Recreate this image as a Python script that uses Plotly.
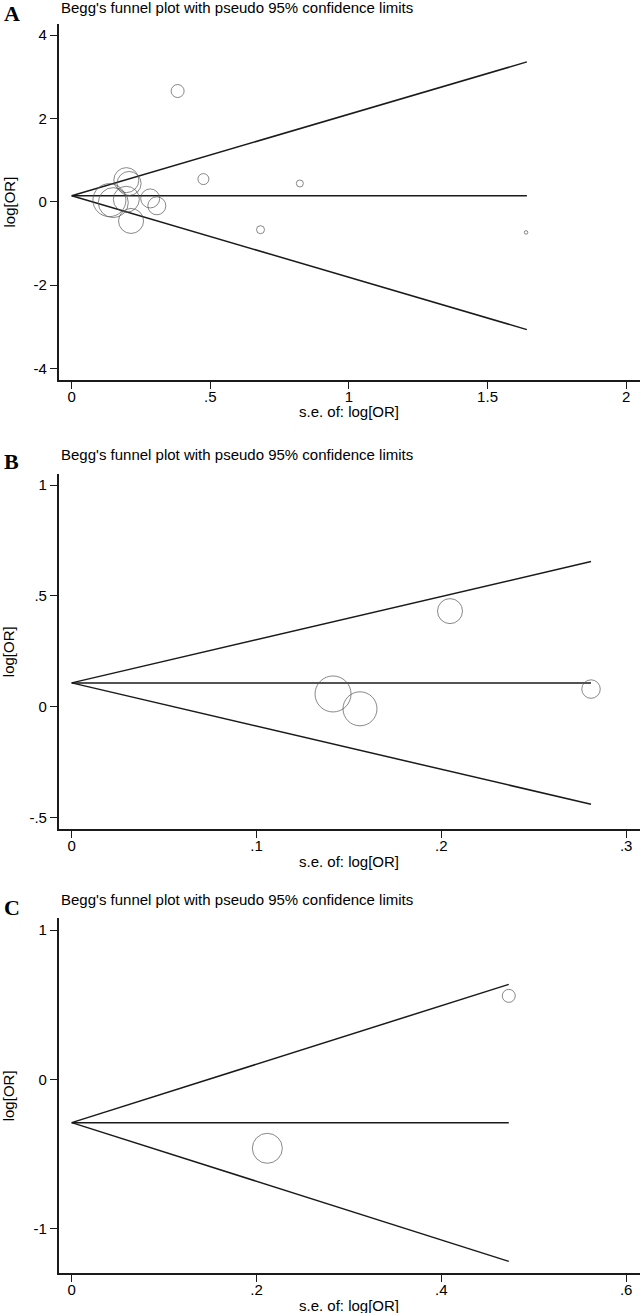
import plotly.graph_objects as go

W, H = 640, 1313

# ---------------- Data ----------------
# Panel A
A_se = [0.136, 0.150, 0.197, 0.197, 0.207, 0.214, 0.283, 0.307, 0.382, 0.475, 0.681, 0.823, 1.639]
A_logor = [0.04, -0.02, 0.06, 0.52, 0.44, -0.46, 0.08, -0.096, 2.66, 0.545, -0.67, 0.44, -0.735]
A_size = [33, 30, 26, 25, 24, 25, 19, 18, 13, 11, 8, 7, 3.5]
A_funnel_se = [0, 1.642]
A_center = [0.145, 0.145]
A_upper = [0.145, 3.36]
A_lower = [0.145, -3.07]
A_xticks = [0, 0.5, 1, 1.5, 2]
A_xticktext = ["0", ".5", "1", "1.5", "2"]
A_yticks = [-4, -2, 0, 2, 4]
A_yticktext = ["-4", "-2", "0", "2", "4"]

# Panel B
B_se = [0.1414, 0.156, 0.2047, 0.281]
B_logor = [0.057, -0.010, 0.431, 0.079]
B_size = [36, 34, 25, 18.5]
B_funnel_se = [0, 0.281]
B_center = [0.107, 0.107]
B_upper = [0.107, 0.655]
B_lower = [0.107, -0.441]
B_xticks = [0, 0.1, 0.2, 0.3]
B_xticktext = ["0", ".1", ".2", ".3"]
B_yticks = [-0.5, 0, 0.5, 1]
B_yticktext = ["-.5", "0", ".5", "1"]

# Panel C
C_se = [0.2117, 0.473]
C_logor = [-0.462, 0.56]
C_size = [30, 13]
C_funnel_se = [0, 0.473]
C_center = [-0.29, -0.29]
C_upper = [-0.29, 0.637]
C_lower = [-0.29, -1.22]
C_xticks = [0, 0.2, 0.4, 0.6]
C_xticktext = ["0", ".2", ".4", ".6"]
C_yticks = [-1, 0, 1]
C_yticktext = ["-1", "0", "1"]

panel_letters = ["A", "B", "C"]
title_text = "Begg's funnel plot with pseudo 95% confidence limits"
x_title = "s.e. of: log[OR]"
y_title = "log[OR]"

# ---------------- Layout geometry ----------------
def py(px):
    return 1 - px / H

x_left = 58.7
x_dom = [x_left / W, 1.0]
panels = [
    dict(se=A_se, lo=A_logor, sz=A_size, fse=A_funnel_se, c=A_center, u=A_upper, l=A_lower,
         xt=A_xticks, xtt=A_xticktext, yt=A_yticks, ytt=A_yticktext,
         xr=[-0.047, 2.05], yr=[-4.28, 4.27], top=24, bot=380, title_y=7.5, letter_y=14),
    dict(se=B_se, lo=B_logor, sz=B_size, fse=B_funnel_se, c=B_center, u=B_upper, l=B_lower,
         xt=B_xticks, xtt=B_xticktext, yt=B_yticks, ytt=B_yticktext,
         xr=[-0.00703, 0.3075], yr=[-0.554, 1.05], top=474, bot=829.3, title_y=455, letter_y=461),
    dict(se=C_se, lo=C_logor, sz=C_size, fse=C_funnel_se, c=C_center, u=C_upper, l=C_lower,
         xt=C_xticks, xtt=C_xticktext, yt=C_yticks, ytt=C_yticktext,
         xr=[-0.01407, 0.615], yr=[-1.30, 1.08], top=918.3, bot=1273.3, title_y=900, letter_y=907),
]

fig = go.Figure()
line_col = "#1a1a1a"
font_fam = "Liberation Sans, Arial, sans-serif"
FS = 15
annotations = []

for i, p in enumerate(panels):
    n = "" if i == 0 else str(i + 1)
    xa, ya = "x" + n, "y" + n
    for yy in (p["u"], p["c"], p["l"]):
        fig.add_trace(go.Scatter(x=p["fse"], y=yy, mode="lines", xaxis=xa, yaxis=ya,
                                 line=dict(color=line_col, width=1.5), showlegend=False,
                                 hoverinfo="skip"))
    fig.add_trace(go.Scatter(x=p["se"], y=p["lo"], mode="markers", xaxis=xa, yaxis=ya,
                             marker=dict(symbol="circle-open", size=p["sz"], color="#555555",
                                         line=dict(width=1, color="#555555")),
                             showlegend=False))
    axis_common = dict(showline=True, linecolor=line_col, linewidth=1.5, ticks="outside",
                       ticklen=7, tickwidth=1.2, tickcolor=line_col, showgrid=False,
                       zeroline=False, automargin=False,
                       tickfont=dict(family=font_fam, size=FS, color="black"))
    fig.layout["xaxis" + n] = dict(domain=x_dom, range=p["xr"], anchor=ya,
                                   tickvals=p["xt"], ticktext=p["xtt"], ticklabelstandoff=-5,
                                   **axis_common)
    fig.layout["yaxis" + n] = dict(domain=[py(p["bot"]), py(p["top"])], range=p["yr"], anchor=xa,
                                   tickvals=p["yt"], ticktext=p["ytt"],
                                   **axis_common)
    # axis titles
    annotations.append(dict(text=x_title, x=(x_left + W) / 2 / W, y=py(p["bot"] + 32),
                            xref="paper", yref="paper", xanchor="center", yanchor="middle",
                            showarrow=False, font=dict(family=font_fam, size=FS, color="black")))
    annotations.append(dict(text=y_title, x=8.5 / W, y=py((p["top"] + p["bot"]) / 2),
                            xref="paper", yref="paper", xanchor="center", yanchor="middle",
                            textangle=-90, showarrow=False,
                            font=dict(family=font_fam, size=FS, color="black")))
    # panel title and letter
    annotations.append(dict(text=title_text, x=59 / W, y=py(p["title_y"]), xref="paper", yref="paper",
                            xanchor="left", yanchor="middle", showarrow=False,
                            font=dict(family=font_fam, size=FS, color="black")))
    annotations.append(dict(text="<b>" + panel_letters[i] + "</b>", x=11.5 / W, y=py(p["letter_y"]),
                            xref="paper", yref="paper", xanchor="center", yanchor="middle",
                            showarrow=False,
                            font=dict(family="Liberation Serif, Times New Roman, serif", size=22,
                                      color="black")))

fig.update_layout(width=W, height=H, margin=dict(l=0, r=0, t=0, b=0),
                  paper_bgcolor="white", plot_bgcolor="white", annotations=annotations)

fig.write_html("out.html", config={"displayModeBar": False},
               post_script="document.body.style.margin='0';document.body.style.overflow='hidden';"
                           "document.documentElement.style.overflow='hidden';")
